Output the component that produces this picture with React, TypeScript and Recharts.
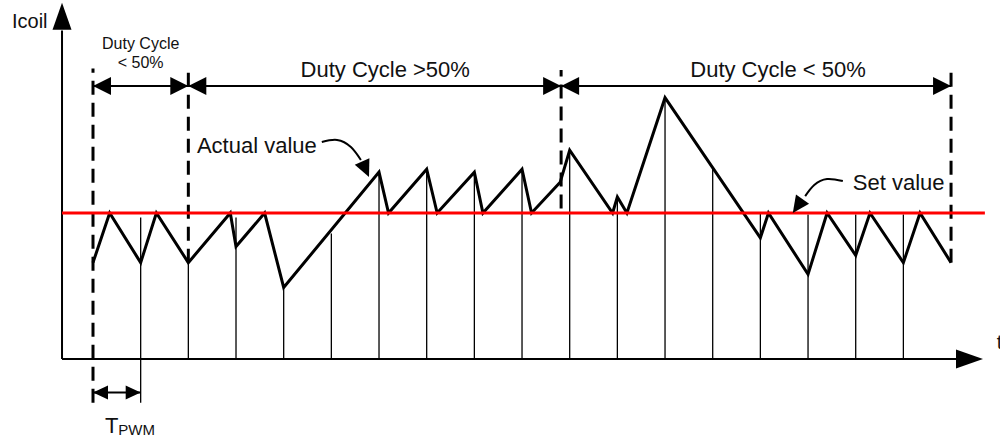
import React from 'react';
import { ComposedChart, XAxis, YAxis, Line, Scatter, ReferenceLine } from 'recharts';

// Time in PWM periods, current in % of the set value
const SET_VALUE = 100;

const waveT = [0, 0.35, 1, 1.33, 2, 2.88, 3, 3.6, 4, 6, 6.2, 7, 7.22, 8, 8.18, 9, 9.2, 9.8, 10, 10.9, 11, 11.2, 12, 14, 14.17, 15, 15.4, 16, 16.3, 17, 17.35, 18];
const waveI = [66, 100, 66, 100, 66, 100, 77, 100, 49, 128, 100, 130, 100, 128, 100, 130, 100, 121, 143, 100, 111, 100, 179, 83, 100, 58, 100, 71, 100, 66, 100, 66];

// PWM period markers
const gridT = [1, 2, 3, 4, 5, 6, 7, 8, 9, 10, 11, 12, 13, 14, 15, 16, 17];
const gridTop = [97, 66, 97, 49, 86, 127, 130, 128, 130, 143, 111, 179, 131, 100, 99, 99, 99];
const gridBottom = [-30, 0, 0, 0, 0, 0, 0, 0, 0, 0, 0, 0, 0, 0, 0, 0, 0];

// Duty-cycle boundaries (dashed)
const dashT = [0, 2, 9.82, 18];
const dashTop = [199, 199, 198, 199];
const dashBottom = [-30, 66, 103, 66];

const SPAN_LEVEL = 187;
const TPWM_LEVEL = -23;
const AXIS_T = -0.65;
const X_AXIS_END = 18.12;
const Y_AXIS_END = 225;
const SET_LINE_END = 18.71;

const actualCurveT = [4.8, 5.12, 5.41, 5.62];
const actualCurveI = [148.6, 150, 145.2, 136.3];
const setCurveT = [15.73, 15.4, 15.13, 14.94];
const setCurveI = [121.9, 123.3, 119.2, 111.6];

const arrowT = [-0.65, 18.67, 0, 2, 2, 9.82, 9.82, 18, 0, 1, 5.79, 14.68];
const arrowI = [244, 0, 187, 187, 187, 187, 187, 187, -23, -23, 124.7, 100];
const arrowAngle = [-90, 0, 180, 0, 180, 0, 180, 0, 180, 0, 66, 125];
const arrowKind = ['axis', 'axis', 'span', 'span', 'span', 'span', 'span', 'span', 'small', 'small', 'curve', 'curve'];

const labelText = ['Icoil', 't', 'Duty Cycle', '< 50%', 'Duty Cycle >50%', 'Duty Cycle < 50%', 'Actual value', 'Set value', 'T'];
const labelT = [-1.7, 18.96, 1, 1, 6.13, 14.37, 2.18, 15.94, 0.25];
const labelI = [227, 7, 212, 199, 193, 193, 141, 116, -51];
const labelKind = ['axis', 'axis', 'small', 'small', 'big', 'big', 'big', 'big', 'tpwm'];

const wave = waveT.map((t, i) => ({ t, v: waveI[i] }));
const actualCurve = actualCurveT.map((t, i) => ({ t, v: actualCurveI[i] }));
const setCurve = setCurveT.map((t, i) => ({ t, v: setCurveI[i] }));
const arrows = arrowT.map((t, i) => ({ t, v: arrowI[i], angle: arrowAngle[i], kind: arrowKind[i] }));
const labels = labelText.map((text, i) => ({ t: labelT[i], v: labelI[i], text, kind: labelKind[i] }));

const ARROW_SIZE: Record<string, [number, number]> = {
  axis: [27, 9.5],
  span: [18, 9],
  small: [15, 7],
  curve: [17, 8],
};

const FONT = '"Liberation Sans", Arial, sans-serif';

const Arrowhead = (p: any) => {
  const { cx, cy, payload } = p;
  if (cx == null || cy == null) return <g />;
  const [len, half] = ARROW_SIZE[payload.kind];
  const a = (payload.angle * Math.PI) / 180;
  const bx = cx - len * Math.cos(a);
  const by = cy - len * Math.sin(a);
  const nx = -Math.sin(a) * half;
  const ny = Math.cos(a) * half;
  return (
    <polygon
      points={`${cx},${cy} ${bx + nx},${by + ny} ${bx - nx},${by - ny}`}
      fill="#000"
    />
  );
};

const LabelShape = (p: any) => {
  const { cx, cy, payload } = p;
  if (cx == null || cy == null) return <g />;
  const k = payload.kind;
  if (k === 'tpwm') {
    return (
      <text x={cx} y={cy} fontFamily={FONT} fontSize={22} fill="#111">
        {payload.text}
        <tspan fontSize={15} dy={2}>PWM</tspan>
      </text>
    );
  }
  const size = k === 'big' ? 22 : k === 'small' ? 16 : 20;
  const anchor = k === 'small' || (k === 'big' && payload.text.startsWith('Duty')) ? 'middle' : 'start';
  return (
    <text x={cx} y={cy} fontFamily={FONT} fontSize={size} fill="#111" textAnchor={anchor}>
      {payload.text}
    </text>
  );
};

export default function App() {
  return (
    <div style={{ position: 'absolute', left: 0, top: 0, width: 1000, height: 441, background: '#fff' }}>
      <ComposedChart width={1000} height={441} margin={{ top: 0, right: 0, bottom: 0, left: 0 }}>
        <XAxis dataKey="t" type="number" domain={[-1.951, 19.027]} allowDataOverflow hide />
        <YAxis dataKey="v" type="number" domain={[-56.16, 245.89]} allowDataOverflow hide />

        {gridT.map((t, i) => (
          <ReferenceLine
            key={`g${i}`}
            segment={[{ x: t, y: gridBottom[i] }, { x: t, y: gridTop[i] }]}
            stroke="#000"
            strokeWidth={1.3}
            ifOverflow="visible"
          />
        ))}

        {dashT.map((t, i) => (
          <ReferenceLine
            key={`d${i}`}
            segment={[{ x: t, y: dashBottom[i] }, { x: t, y: dashTop[i] }]}
            stroke="#000"
            strokeWidth={3}
            strokeDasharray="14 8"
            ifOverflow="visible"
          />
        ))}

        <ReferenceLine segment={[{ x: AXIS_T, y: 0 }, { x: AXIS_T, y: Y_AXIS_END }]} stroke="#000" strokeWidth={2} ifOverflow="visible" />
        <ReferenceLine segment={[{ x: AXIS_T, y: 0 }, { x: X_AXIS_END, y: 0 }]} stroke="#000" strokeWidth={2} ifOverflow="visible" />
        <ReferenceLine segment={[{ x: dashT[0], y: SPAN_LEVEL }, { x: dashT[3], y: SPAN_LEVEL }]} stroke="#000" strokeWidth={2} ifOverflow="visible" />
        <ReferenceLine segment={[{ x: 0, y: TPWM_LEVEL }, { x: 1, y: TPWM_LEVEL }]} stroke="#000" strokeWidth={2} ifOverflow="visible" />

        <Line
          data={wave}
          dataKey="v"
          type="linear"
          stroke="#000"
          strokeWidth={3}
          strokeLinejoin="miter"
          dot={false}
          activeDot={false}
          isAnimationActive={false}
        />

        <ReferenceLine
          segment={[{ x: AXIS_T, y: SET_VALUE }, { x: SET_LINE_END, y: SET_VALUE }]}
          stroke="#ff0000"
          strokeWidth={3}
          ifOverflow="visible"
        />

        <Line data={actualCurve} dataKey="v" type="natural" stroke="#000" strokeWidth={2} dot={false} activeDot={false} isAnimationActive={false} />
        <Line data={setCurve} dataKey="v" type="natural" stroke="#000" strokeWidth={2} dot={false} activeDot={false} isAnimationActive={false} />

        <Scatter data={arrows} dataKey="v" shape={Arrowhead} isAnimationActive={false} />
        <Scatter data={labels} dataKey="v" shape={LabelShape} isAnimationActive={false} />
      </ComposedChart>
    </div>
  );
}
